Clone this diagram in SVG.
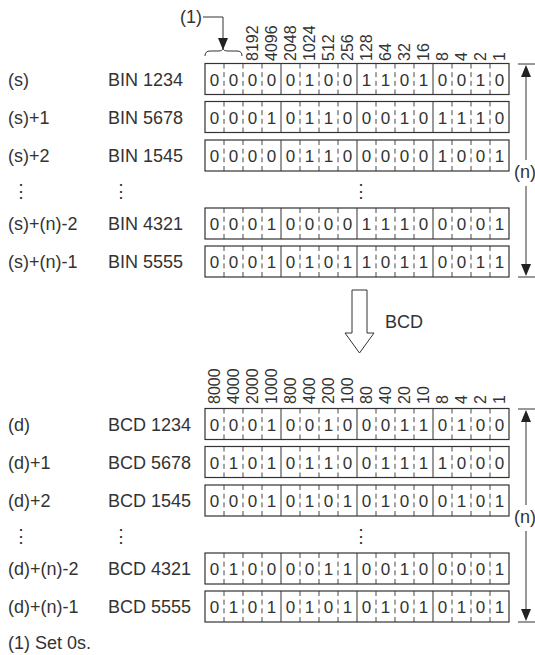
<svg xmlns="http://www.w3.org/2000/svg" width="535" height="655" viewBox="0 0 535 655">
<defs>
<style>
text{font-family:"Liberation Sans",Arial,sans-serif;fill:#333}
.lb{font-size:18px}
.bt{font-size:17px;text-anchor:middle}
.wt{font-size:16px}
.box{fill:#fff;stroke:#333;stroke-width:1.2}
.nib{stroke:#333;stroke-width:1}
.bit{stroke:#333;stroke-width:0.9;stroke-dasharray:5 3.67}
.ln{stroke:#333;stroke-width:1;fill:none}
.ah{fill:#222}
</style>
<g id="cells">
<rect class="box" x="0" y="0" width="304" height="31"/>
<line class="bit" x1="19" y1="0" x2="19" y2="31"/>
<line class="bit" x1="38" y1="0" x2="38" y2="31"/>
<line class="bit" x1="57" y1="0" x2="57" y2="31"/>
<line class="nib" x1="76" y1="0" x2="76" y2="31"/>
<line class="bit" x1="95" y1="0" x2="95" y2="31"/>
<line class="bit" x1="114" y1="0" x2="114" y2="31"/>
<line class="bit" x1="133" y1="0" x2="133" y2="31"/>
<line class="nib" x1="152" y1="0" x2="152" y2="31"/>
<line class="bit" x1="171" y1="0" x2="171" y2="31"/>
<line class="bit" x1="190" y1="0" x2="190" y2="31"/>
<line class="bit" x1="209" y1="0" x2="209" y2="31"/>
<line class="nib" x1="228" y1="0" x2="228" y2="31"/>
<line class="bit" x1="247" y1="0" x2="247" y2="31"/>
<line class="bit" x1="266" y1="0" x2="266" y2="31"/>
<line class="bit" x1="285" y1="0" x2="285" y2="31"/>
</g>
</defs>

<g id="connectors">
<path class="ln" d="M203,17 H223 V40"/>
<polygon class="ah" points="218,38 228,38 223,50"/>
<path class="ln" d="M205,56 Q205,51 210,51 H218 Q223,51 223,48 Q223,51 228,51 H237 Q242,51 242,56"/>
<path class="ln" d="M518,64 H535 M518,277 H535 M526,75 V160 M526,186 V266"/>
<polygon class="ah" points="521,77 531,77 526,65"/>
<polygon class="ah" points="521,264 531,264 526,276"/>
<path class="ln" d="M518,409 H535 M518,622 H535 M526,420 V505 M526,531 V611"/>
<polygon class="ah" points="521,422 531,422 526,410"/>
<polygon class="ah" points="521,609 531,609 526,621"/>
<path d="M352,290 H367 V333 H374 L359.5,353 L345,333 H352 Z" fill="#fff" stroke="#333" stroke-width="1"/>
</g>

<g id="label-1">
<text class="lb" x="180" y="23">(1)</text>
</g>
<g id="n-top"><text class="lb" x="514" y="178">(n)</text></g>
<g id="n-bottom"><text class="lb" x="514" y="523">(n)</text></g>
<g id="bcd-label"><text class="lb" x="385" y="328">BCD</text></g>

<g id="weights-top" class="wt">
<text transform="translate(258,61) rotate(-90)">8192</text>
<text transform="translate(277,61) rotate(-90)">4096</text>
<text transform="translate(296,61) rotate(-90)">2048</text>
<text transform="translate(315,61) rotate(-90)">1024</text>
<text transform="translate(334,61) rotate(-90)">512</text>
<text transform="translate(353,61) rotate(-90)">256</text>
<text transform="translate(372,61) rotate(-90)">128</text>
<text transform="translate(391,61) rotate(-90)">64</text>
<text transform="translate(410,61) rotate(-90)">32</text>
<text transform="translate(429,61) rotate(-90)">16</text>
<text transform="translate(448,61) rotate(-90)">8</text>
<text transform="translate(467,61) rotate(-90)">4</text>
<text transform="translate(486,61) rotate(-90)">2</text>
<text transform="translate(505,61) rotate(-90)">1</text>
</g>

<g id="weights-bottom" class="wt">
<text transform="translate(220,404) rotate(-90)">8000</text>
<text transform="translate(239,404) rotate(-90)">4000</text>
<text transform="translate(258,404) rotate(-90)">2000</text>
<text transform="translate(277,404) rotate(-90)">1000</text>
<text transform="translate(296,404) rotate(-90)">800</text>
<text transform="translate(315,404) rotate(-90)">400</text>
<text transform="translate(334,404) rotate(-90)">200</text>
<text transform="translate(353,404) rotate(-90)">100</text>
<text transform="translate(372,404) rotate(-90)">80</text>
<text transform="translate(391,404) rotate(-90)">40</text>
<text transform="translate(410,404) rotate(-90)">20</text>
<text transform="translate(429,404) rotate(-90)">10</text>
<text transform="translate(448,404) rotate(-90)">8</text>
<text transform="translate(467,404) rotate(-90)">4</text>
<text transform="translate(486,404) rotate(-90)">2</text>
<text transform="translate(505,404) rotate(-90)">1</text>
</g>

<g id="row-s0">
<text class="lb" x="8" y="85.5">(s)</text><text class="lb" x="108" y="85.5">BIN 1234</text>
<use href="#cells" x="205" y="63.5"/>
<text class="bt" y="85.5"><tspan x="214.5">0</tspan><tspan x="233.5">0</tspan><tspan x="252.5">0</tspan><tspan x="271.5">0</tspan><tspan x="290.5">0</tspan><tspan x="309.5">1</tspan><tspan x="328.5">0</tspan><tspan x="347.5">0</tspan><tspan x="366.5">1</tspan><tspan x="385.5">1</tspan><tspan x="404.5">0</tspan><tspan x="423.5">1</tspan><tspan x="442.5">0</tspan><tspan x="461.5">0</tspan><tspan x="480.5">1</tspan><tspan x="499.5">0</tspan></text>
</g>
<g id="row-s1">
<text class="lb" x="8" y="123.5">(s)+1</text><text class="lb" x="108" y="123.5">BIN 5678</text>
<use href="#cells" x="205" y="101.5"/>
<text class="bt" y="123.5"><tspan x="214.5">0</tspan><tspan x="233.5">0</tspan><tspan x="252.5">0</tspan><tspan x="271.5">1</tspan><tspan x="290.5">0</tspan><tspan x="309.5">1</tspan><tspan x="328.5">1</tspan><tspan x="347.5">0</tspan><tspan x="366.5">0</tspan><tspan x="385.5">0</tspan><tspan x="404.5">1</tspan><tspan x="423.5">0</tspan><tspan x="442.5">1</tspan><tspan x="461.5">1</tspan><tspan x="480.5">1</tspan><tspan x="499.5">0</tspan></text>
</g>
<g id="row-s2">
<text class="lb" x="8" y="162">(s)+2</text><text class="lb" x="108" y="162">BIN 1545</text>
<use href="#cells" x="205" y="140"/>
<text class="bt" y="162"><tspan x="214.5">0</tspan><tspan x="233.5">0</tspan><tspan x="252.5">0</tspan><tspan x="271.5">0</tspan><tspan x="290.5">0</tspan><tspan x="309.5">1</tspan><tspan x="328.5">1</tspan><tspan x="347.5">0</tspan><tspan x="366.5">0</tspan><tspan x="385.5">0</tspan><tspan x="404.5">0</tspan><tspan x="423.5">0</tspan><tspan x="442.5">1</tspan><tspan x="461.5">0</tspan><tspan x="480.5">0</tspan><tspan x="499.5">1</tspan></text>
</g>
<g id="dots-s">
<text class="lb" x="12" y="197">⋮</text><text class="lb" x="112" y="197">⋮</text><text class="lb" x="352" y="197">⋮</text>
</g>
<g id="row-s4">
<text class="lb" x="8" y="230">(s)+(n)-2</text><text class="lb" x="108" y="230">BIN 4321</text>
<use href="#cells" x="205" y="208"/>
<text class="bt" y="230"><tspan x="214.5">0</tspan><tspan x="233.5">0</tspan><tspan x="252.5">0</tspan><tspan x="271.5">1</tspan><tspan x="290.5">0</tspan><tspan x="309.5">0</tspan><tspan x="328.5">0</tspan><tspan x="347.5">0</tspan><tspan x="366.5">1</tspan><tspan x="385.5">1</tspan><tspan x="404.5">1</tspan><tspan x="423.5">0</tspan><tspan x="442.5">0</tspan><tspan x="461.5">0</tspan><tspan x="480.5">0</tspan><tspan x="499.5">1</tspan></text>
</g>
<g id="row-s5">
<text class="lb" x="8" y="268">(s)+(n)-1</text><text class="lb" x="108" y="268">BIN 5555</text>
<use href="#cells" x="205" y="246"/>
<text class="bt" y="268"><tspan x="214.5">0</tspan><tspan x="233.5">0</tspan><tspan x="252.5">0</tspan><tspan x="271.5">1</tspan><tspan x="290.5">0</tspan><tspan x="309.5">1</tspan><tspan x="328.5">0</tspan><tspan x="347.5">1</tspan><tspan x="366.5">1</tspan><tspan x="385.5">0</tspan><tspan x="404.5">1</tspan><tspan x="423.5">1</tspan><tspan x="442.5">0</tspan><tspan x="461.5">0</tspan><tspan x="480.5">1</tspan><tspan x="499.5">1</tspan></text>
</g>

<g id="row-d0">
<text class="lb" x="8" y="430.5">(d)</text><text class="lb" x="108" y="430.5">BCD 1234</text>
<use href="#cells" x="205" y="408.5"/>
<text class="bt" y="430.5"><tspan x="214.5">0</tspan><tspan x="233.5">0</tspan><tspan x="252.5">0</tspan><tspan x="271.5">1</tspan><tspan x="290.5">0</tspan><tspan x="309.5">0</tspan><tspan x="328.5">1</tspan><tspan x="347.5">0</tspan><tspan x="366.5">0</tspan><tspan x="385.5">0</tspan><tspan x="404.5">1</tspan><tspan x="423.5">1</tspan><tspan x="442.5">0</tspan><tspan x="461.5">1</tspan><tspan x="480.5">0</tspan><tspan x="499.5">0</tspan></text>
</g>
<g id="row-d1">
<text class="lb" x="8" y="468.5">(d)+1</text><text class="lb" x="108" y="468.5">BCD 5678</text>
<use href="#cells" x="205" y="446.5"/>
<text class="bt" y="468.5"><tspan x="214.5">0</tspan><tspan x="233.5">1</tspan><tspan x="252.5">0</tspan><tspan x="271.5">1</tspan><tspan x="290.5">0</tspan><tspan x="309.5">1</tspan><tspan x="328.5">1</tspan><tspan x="347.5">0</tspan><tspan x="366.5">0</tspan><tspan x="385.5">1</tspan><tspan x="404.5">1</tspan><tspan x="423.5">1</tspan><tspan x="442.5">1</tspan><tspan x="461.5">0</tspan><tspan x="480.5">0</tspan><tspan x="499.5">0</tspan></text>
</g>
<g id="row-d2">
<text class="lb" x="8" y="507">(d)+2</text><text class="lb" x="108" y="507">BCD 1545</text>
<use href="#cells" x="205" y="485"/>
<text class="bt" y="507"><tspan x="214.5">0</tspan><tspan x="233.5">0</tspan><tspan x="252.5">0</tspan><tspan x="271.5">1</tspan><tspan x="290.5">0</tspan><tspan x="309.5">1</tspan><tspan x="328.5">0</tspan><tspan x="347.5">1</tspan><tspan x="366.5">0</tspan><tspan x="385.5">1</tspan><tspan x="404.5">0</tspan><tspan x="423.5">0</tspan><tspan x="442.5">0</tspan><tspan x="461.5">1</tspan><tspan x="480.5">0</tspan><tspan x="499.5">1</tspan></text>
</g>
<g id="dots-d">
<text class="lb" x="12" y="542">⋮</text><text class="lb" x="112" y="542">⋮</text><text class="lb" x="352" y="542">⋮</text>
</g>
<g id="row-d4">
<text class="lb" x="8" y="575">(d)+(n)-2</text><text class="lb" x="108" y="575">BCD 4321</text>
<use href="#cells" x="205" y="553"/>
<text class="bt" y="575"><tspan x="214.5">0</tspan><tspan x="233.5">1</tspan><tspan x="252.5">0</tspan><tspan x="271.5">0</tspan><tspan x="290.5">0</tspan><tspan x="309.5">0</tspan><tspan x="328.5">1</tspan><tspan x="347.5">1</tspan><tspan x="366.5">0</tspan><tspan x="385.5">0</tspan><tspan x="404.5">1</tspan><tspan x="423.5">0</tspan><tspan x="442.5">0</tspan><tspan x="461.5">0</tspan><tspan x="480.5">0</tspan><tspan x="499.5">1</tspan></text>
</g>
<g id="row-d5">
<text class="lb" x="8" y="613">(d)+(n)-1</text><text class="lb" x="108" y="613">BCD 5555</text>
<use href="#cells" x="205" y="591"/>
<text class="bt" y="613"><tspan x="214.5">0</tspan><tspan x="233.5">1</tspan><tspan x="252.5">0</tspan><tspan x="271.5">1</tspan><tspan x="290.5">0</tspan><tspan x="309.5">1</tspan><tspan x="328.5">0</tspan><tspan x="347.5">1</tspan><tspan x="366.5">0</tspan><tspan x="385.5">1</tspan><tspan x="404.5">0</tspan><tspan x="423.5">1</tspan><tspan x="442.5">0</tspan><tspan x="461.5">1</tspan><tspan x="480.5">0</tspan><tspan x="499.5">1</tspan></text>
</g>

<g id="note"><text class="lb" x="8" y="649">(1) Set 0s.</text></g>
</svg>
